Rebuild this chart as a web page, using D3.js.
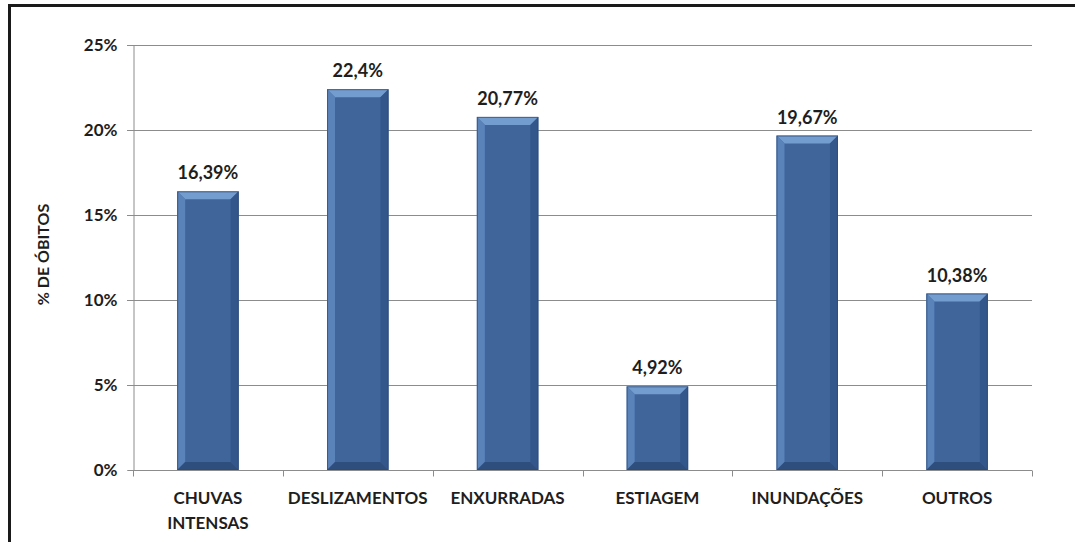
<!DOCTYPE html>
<html>
<head>
<meta charset="utf-8">
<script src="https://cdn.jsdelivr.net/npm/d3@7/dist/d3.min.js"></script>
<style>
  html, body { margin: 0; padding: 0; background: #fff; }
  svg { display: block; }
  text { font-family: Lato, "Open Sans", sans-serif; font-weight: bold; fill: #1e1e1e; }
</style>
</head>
<body>
<svg id="chart" width="1075" height="542"></svg>
<script>
// Deaths by disaster type (share of total)
const categories = [["CHUVAS", "INTENSAS"], ["DESLIZAMENTOS"], ["ENXURRADAS"], ["ESTIAGEM"], ["INUNDAÇÕES"], ["OUTROS"]];
const values = [16.39, 22.4, 20.77, 4.92, 19.67, 10.38];
const valueLabels = ["16,39%", "22,4%", "20,77%", "4,92%", "19,67%", "10,38%"];
const yTicks = [0, 5, 10, 15, 20, 25];
const yTitle = "% DE ÓBITOS";

const svg = d3.select("#chart");
const W = 1075, H = 542;
const m = { left: 133, right: 1032, top: 45, bottom: 470 };

const x = d3.scaleBand()
  .domain(d3.range(categories.length))
  .range([m.left, m.right])
  .paddingInner(0.59)
  .paddingOuter(0.295);

const y = d3.scaleLinear().domain([0, 25]).range([m.bottom, m.top]);

// Outer frame (left and top edges)
svg.append("path")
  .attr("d", `M9.5,${H} L9.5,5.5 L${W},5.5`)
  .attr("fill", "none")
  .attr("stroke", "#1a1a1a")
  .attr("stroke-width", 3);

// Horizontal gridlines
svg.append("g")
  .selectAll("line")
  .data(yTicks.filter(d => d > 0))
  .join("line")
  .attr("x1", m.left - 6).attr("x2", m.right)
  .attr("y1", d => Math.round(y(d)) + 0.5).attr("y2", d => Math.round(y(d)) + 0.5)
  .attr("stroke", "#8c8c8c")
  .attr("stroke-width", 1);

// Y axis
const yAxis = svg.append("g")
  .attr("transform", `translate(${m.left + 0.5},0)`)
  .call(d3.axisLeft(y).tickValues(yTicks).tickFormat(d => d + "%").tickSize(6).tickPadding(10));
yAxis.select(".domain").attr("stroke", "#8c8c8c");
yAxis.selectAll(".tick line").attr("stroke", "#8c8c8c");
yAxis.selectAll(".tick text").attr("font-size", 17).attr("font-family", null).attr("fill", "#1e1e1e");

// X axis with boundary ticks between categories
const xAxisG = svg.append("g").attr("transform", `translate(0,${Math.round(y(0)) + 0.5})`);
xAxisG.append("line")
  .attr("x1", m.left).attr("x2", m.right)
  .attr("stroke", "#8c8c8c");
const step = x.step();
xAxisG.selectAll("line.tick")
  .data(d3.range(categories.length + 1))
  .join("line")
  .attr("class", "tick")
  .attr("x1", i => Math.round(m.left + i * step) + 0.5)
  .attr("x2", i => Math.round(m.left + i * step) + 0.5)
  .attr("y1", 0).attr("y2", 6)
  .attr("stroke", "#8c8c8c");

// Category labels
const catG = svg.append("g");
categories.forEach((lines, i) => {
  const t = catG.append("text")
    .attr("x", x(i) + x.bandwidth() / 2)
    .attr("y", 504)
    .attr("text-anchor", "middle")
    .attr("font-size", 17);
  lines.forEach((ln, k) => {
    t.append("tspan").attr("x", x(i) + x.bandwidth() / 2).attr("dy", k === 0 ? 0 : 25).text(ln);
  });
});

// Y title
svg.append("text")
  .attr("transform", `translate(49,${(m.top + m.bottom) / 2 - 3}) rotate(-90)`)
  .attr("text-anchor", "middle")
  .attr("font-size", 16)
  .text(yTitle);

// Bevelled bars
const bev = 8;
const bars = svg.append("g").selectAll("g").data(values).join("g");
bars.each(function (v, i) {
  const g = d3.select(this);
  const x0 = x(i), x1 = x(i) + x.bandwidth();
  const y0 = y(v), y1 = y(0);
  const b = Math.min(bev, (y1 - y0) / 2);
  // base face
  g.append("rect").attr("x", x0).attr("y", y0).attr("width", x1 - x0).attr("height", y1 - y0).attr("fill", "#3f659b");
  // top bevel
  g.append("polygon").attr("points", [[x0, y0], [x1, y0], [x1 - b, y0 + b], [x0 + b, y0 + b]].join(" ")).attr("fill", "#749dcf");
  // left bevel
  g.append("polygon").attr("points", [[x0, y0], [x0 + b, y0 + b], [x0 + b, y1 - b], [x0, y1]].join(" ")).attr("fill", "#5a83ba");
  // right bevel
  g.append("polygon").attr("points", [[x1, y0], [x1, y1], [x1 - b, y1 - b], [x1 - b, y0 + b]].join(" ")).attr("fill", "#34578b");
  // bottom bevel
  g.append("polygon").attr("points", [[x0, y1], [x1, y1], [x1 - b, y1 - b], [x0 + b, y1 - b]].join(" ")).attr("fill", "#2e4e7e");
  // outline
  g.append("rect").attr("x", x0 + 0.5).attr("y", y0 + 0.5).attr("width", x1 - x0 - 1).attr("height", y1 - y0 - 1)
    .attr("fill", "none").attr("stroke", "#2d4a75").attr("stroke-width", 1).attr("stroke-opacity", 0.7);
  // value label
  g.append("text")
    .attr("x", (x0 + x1) / 2)
    .attr("y", y0 - 12)
    .attr("text-anchor", "middle")
    .attr("font-size", 18)
    .text(valueLabels[i]);
});
</script>
</body>
</html>
